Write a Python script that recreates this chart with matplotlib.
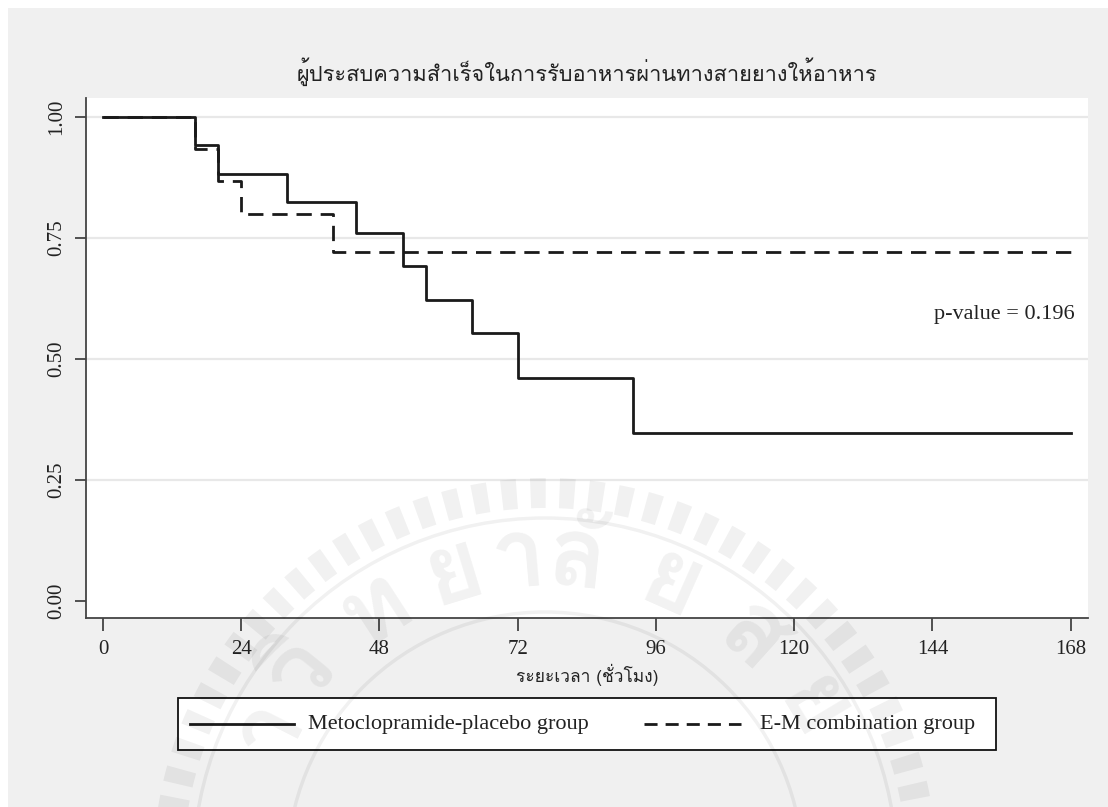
import numpy as np
import matplotlib
matplotlib.use("Agg")
import matplotlib.pyplot as plt
from matplotlib import font_manager
from matplotlib.ft2font import FT2Font
from matplotlib.lines import Line2D
from matplotlib.patches import Rectangle, Wedge, Circle
from matplotlib.transforms import Affine2D

# Kaplan-Meier estimates (hours, survival probability)
met_times = [0, 16, 20, 32, 44, 52, 56, 64, 72, 92, 168]
met_surv = [1.0, 0.941, 0.882, 0.824, 0.760, 0.691, 0.622, 0.553, 0.461, 0.346, 0.346]
em_times = [0, 16, 20, 24, 40, 168]
em_surv = [1.0, 0.933, 0.867, 0.800, 0.720, 0.720]

x_ticks = [0, 24, 48, 72, 96, 120, 144, 168]
y_ticks = [0.00, 0.25, 0.50, 0.75, 1.00]
series_labels = ["Metoclopramide-placebo group", "E-M combination group"]
title = "ผู้ประสบความสำเร็จในการรับอาหารผ่านทางสายยางให้อาหาร"
xlabel = "ระยะเวลา (ชั่วโมง)"
p_text = "p-value = 0.196"

# background seal lettering, one glyph cluster per slot along the arc
seal_glyphs = ["า", "วิ", "ท", "ย", "า", "ลั", "ย", "ส", "ย"]
seal_angles = [153, 141, 123, 107, 95, 84, 66, 48, 31]


def find_thai_font():
    seen = set()
    for f in font_manager.fontManager.ttflist:
        if f.fname in seen:
            continue
        seen.add(f.fname)
        try:
            cmap = FT2Font(f.fname).get_charmap()
        except Exception:
            continue
        if 0x0E1C in cmap and 0x0E33 in cmap:
            return f.name
    return "DejaVu Sans"


thai = find_thai_font()
serif = "Liberation Serif"
ink = "#1a1a1a"
dash = (0, (5.5, 3.2))

W, H = 1108, 807
fig = plt.figure(figsize=(W / 100, H / 100), dpi=100)
fig.patch.set_facecolor("white")
# pixel coordinates, origin top-left
px = Affine2D().scale(1 / W, -1 / H).translate(0, 1) + fig.transFigure

fig.add_artist(Rectangle((8, 8), W, H, transform=px,
                         facecolor="#f0f0f0", edgecolor="none", zorder=-10))

left, right, top, bottom = 85.7, 1088, 98, 618
ax = fig.add_axes([left / W, 1 - bottom / H, (right - left) / W, (bottom - top) / H])
ax.set_facecolor("white")
ax.set_xlim(-3, 171)
ax.set_ylim(-0.036, 1.039)

for yv in y_ticks[1:]:
    ax.axhline(yv, color="#e8e8e8", lw=1.6, zorder=0)

ax.step(met_times, met_surv, where="post", color=ink, lw=2.0, zorder=3)
ax.step(em_times, em_surv, where="post", color=ink, lw=2.0, linestyle=dash, zorder=3)

ax.text(168.6, 0.591, p_text, ha="right", va="center", fontsize=16,
        family=serif, color="#222222")

for s in ["top", "right"]:
    ax.spines[s].set_visible(False)
for s in ["left", "bottom"]:
    ax.spines[s].set_color("#444444")
    ax.spines[s].set_linewidth(1.3)

ax.set_xticks(x_ticks)
ax.set_xticklabels([str(v) for v in x_ticks], family=serif, fontsize=15, color="#222222")
ax.set_yticks(y_ticks)
ax.set_yticklabels([f"{v:.2f}" for v in y_ticks], family=serif, fontsize=15,
                   color="#222222", rotation=90, va="center")
ax.tick_params(axis="x", length=9, width=1.3, color="#444444", pad=7)
ax.tick_params(axis="y", length=8, width=1.3, color="#444444", pad=6)

ax.set_xlabel(xlabel, family=[thai, "DejaVu Sans"], fontsize=12.5, color="#222222",
              labelpad=3)
ax.set_title(title, family=[thai, "DejaVu Sans"], fontsize=15.7, color="#222222", pad=12)

# legend box drawn in figure pixel space
fig.add_artist(Rectangle((178, 698), 996 - 178, 750 - 698, transform=px,
                         facecolor="white", edgecolor="#111111", lw=1.3, zorder=5))
fig.add_artist(Line2D([190, 294], [724, 724], transform=px, color=ink, lw=2.0, zorder=6))
fig.add_artist(Line2D([644, 741], [724, 724], transform=px, color=ink, lw=2.0,
                      linestyle=(0, (4.7, 2.9)), zorder=6))
fig.text(308 / W, 1 - 725 / H, series_labels[0], ha="left", va="center", family=serif,
         fontsize=16, color="#222222", zorder=6)
fig.text(760 / W, 1 - 725 / H, series_labels[1], ha="left", va="center", family=serif,
         fontsize=16, color="#222222", zorder=6)

# faint circular seal in the background
cx, cy = 545, 870
shade = dict(color="black", alpha=0.055, zorder=20, transform=px)
for k in range(82):
    a0 = k * 360 / 82
    fig.add_artist(Wedge((cx, cy), 392, a0, a0 + 2.3, width=30, lw=0, **shade))
fig.add_artist(Circle((cx, cy), 352, fill=False, lw=2.5, **shade))
fig.add_artist(Circle((cx, cy), 258, fill=False, lw=2.5, **shade))
for g, ang in zip(seal_glyphs, seal_angles):
    t = np.deg2rad(ang)
    gx, gy = cx + 310 * np.cos(t), cy - 310 * np.sin(t)
    fig.text(gx / W, 1 - gy / H, g, ha="center", va="center", rotation=ang - 90,
             family=[thai, "DejaVu Sans"], fontsize=70, fontweight="bold",
             color="black", alpha=0.055, zorder=20)

fig.savefig("out.png", dpi=100)
